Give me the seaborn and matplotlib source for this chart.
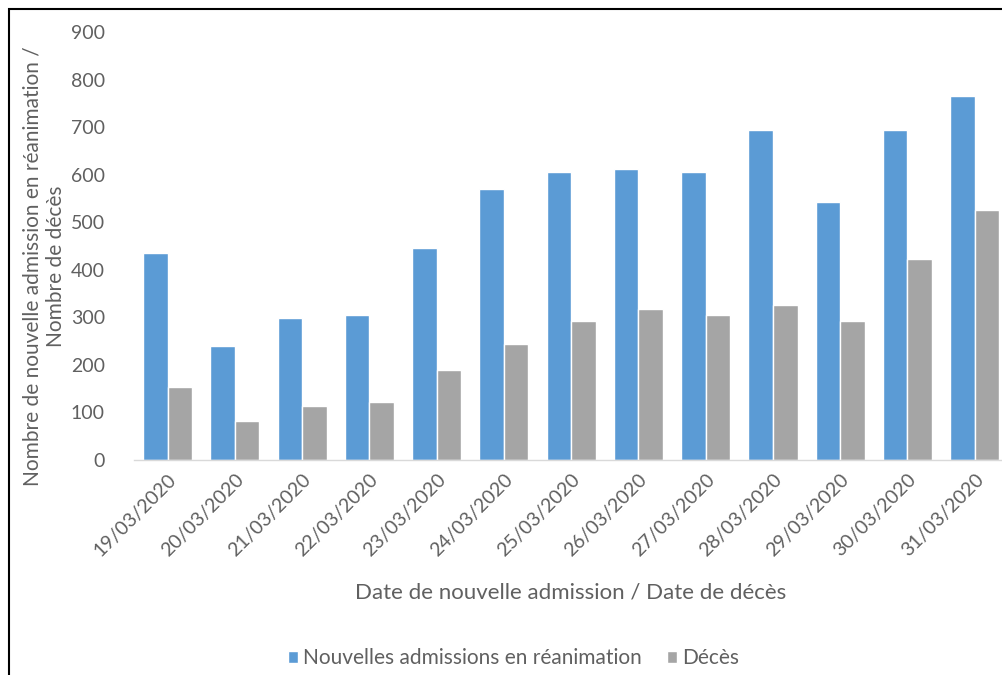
import numpy as np
import pandas as pd
import matplotlib
matplotlib.use("Agg")
import matplotlib.pyplot as plt
import seaborn as sns
from matplotlib.patches import Rectangle

# Data
dates = ["19/03/2020", "20/03/2020", "21/03/2020", "22/03/2020", "23/03/2020",
         "24/03/2020", "25/03/2020", "26/03/2020", "27/03/2020", "28/03/2020",
         "29/03/2020", "30/03/2020", "31/03/2020"]
admissions = [436, 240, 298, 306, 446, 570, 605, 611, 605, 693, 542, 693, 765]
deaths = [154, 81, 114, 122, 189, 244, 293, 317, 305, 326, 293, 422, 526]
series_names = ["Nouvelles admissions en réanimation", "Décès"]

BLUE = "#5B9BD5"
GREY = "#A5A5A5"
TEXT = "#606060"

df = pd.DataFrame({
    "date": dates * 2,
    "value": admissions + deaths,
    "serie": [series_names[0]] * len(dates) + [series_names[1]] * len(dates),
})

sns.set_theme(style="white")
plt.rcParams["font.family"] = ["Lato", "DejaVu Sans"]

fig = plt.figure(figsize=(10.03, 6.75), dpi=100)
ax = fig.add_axes([0.1336, 0.3185, 0.8664, 0.634])

sns.barplot(data=df, x="date", y="value", hue="serie", order=dates,
            hue_order=series_names, palette=[BLUE, GREY], width=0.73,
            saturation=1, ax=ax, legend=True)

ax.set_ylim(0, 900)
ax.set_yticks(range(0, 901, 100))
ax.set_xlim(-0.5, 12.42)
for s in ["top", "right", "left"]:
    ax.spines[s].set_visible(False)
ax.spines["bottom"].set_color("#D9D9D9")
ax.spines["bottom"].set_linewidth(1.0)
ax.tick_params(axis="x", length=0, colors=TEXT, labelsize=14, pad=8)
ax.tick_params(axis="y", length=0, colors=TEXT, labelsize=14, pad=21)
plt.setp(ax.get_xticklabels(), rotation=45, ha="right", rotation_mode="anchor")

ax.set_xlabel("Date de nouvelle admission / Date de décès", color=TEXT, fontsize=16)
ax.xaxis.set_label_coords(0.503, -0.287)
ax.set_ylabel("")
fig.text(44 / 1003, 1 - 266 / 675,
         "Nombre de nouvelle admission en réanimation /\nNombre de décès",
         rotation=90, ha="center", va="center", multialignment="center",
         color=TEXT, fontsize=15, linespacing=1.2)

handles, labels = ax.get_legend_handles_labels()
ax.get_legend().remove()
fig.legend(handles, labels, loc="center", bbox_to_anchor=(0.512, 0.025), ncol=2,
           frameon=False, fontsize=15, labelcolor=TEXT, handlelength=0.5,
           handleheight=0.5, handletextpad=0.25, columnspacing=1.2)

# black frame (cut on the right and bottom as in the source)
fig.add_artist(Rectangle((9 / 1003, -0.1), 1.2, (675 - 9) / 675 + 0.1,
                         transform=fig.transFigure, fill=False,
                         edgecolor="black", linewidth=1.5))

fig.savefig("out.png", dpi=100)
